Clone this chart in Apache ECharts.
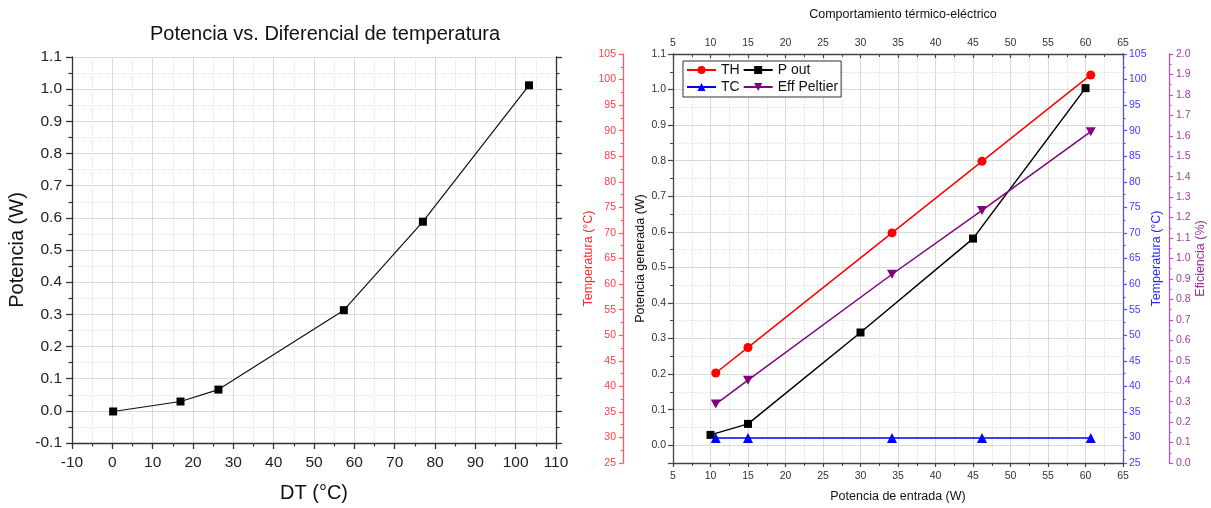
<!DOCTYPE html>
<html>
<head>
<meta charset="utf-8">
<title>Potencia vs. Diferencial de temperatura</title>
<script src="https://cdn.jsdelivr.net/npm/echarts@6/dist/echarts.min.js"></script>
<style>
  html, body { margin: 0; padding: 0; background: #fff; }
  #chart { width: 1211px; height: 508px; }
</style>
</head>
<body>
<div id="chart"></div>
<script>
// grafica izquierda: potencia vs DT
var dtValues = [0.2, 16.9, 26.3, 57.4, 77.0, 103.3]
var potValues = [-0.002, 0.029, 0.066, 0.313, 0.588, 1.012]

// grafica derecha: comportamiento termico-electrico
var potEntrada = [10.7, 15, 34.2, 46.2, 60.7]      // eje x de TH, TC y Eff
var thValues = [42.6, 47.6, 70.0, 84.0, 100.9]
var tcValues = [29.9, 29.9, 29.9, 29.9, 29.9]
var effValues = [0.288, 0.405, 0.923, 1.235, 1.62]
var potEntradaOut = [10, 15, 30, 45, 60]           // eje x de P out
var pOutValues = [0.029, 0.060, 0.317, 0.581, 1.004]
var legendList = ['TH', 'P out', 'TC', 'Eff Peltier']

var FONT = 'Liberation Sans, Arial, sans-serif'
var downTriangle = 'path://M0,0 L10,0 L5,9 Z'

function pairs(xs, ys) {
  return xs.map(function (x, i) { return [x, ys[i]] })
}
function oneDecimal(v) {
  // solo etiquetas en multiplos de 0.1
  if (Math.abs(v * 10 - Math.round(v * 10)) > 1e-6) return ''
  return v.toFixed(1)
}

// estilo comun de ejes
function axisBase(color, labelColor, fontSize, opts) {
  var base = {
    type: 'value',
    axisLine: { show: true, onZero: false, lineStyle: { color: color, width: 1.3 } },
    axisTick: { show: true, length: 5, lineStyle: { color: color, width: 1.2 } },
    minorTick: { show: true, splitNumber: 2, length: 3, lineStyle: { color: color, width: 1 } },
    axisLabel: { color: labelColor, fontSize: fontSize, fontFamily: FONT },
    splitLine: { show: false },
    nameTextStyle: { fontFamily: FONT }
  }
  return Object.assign(base, opts)
}

var gridLine = { show: true, lineStyle: { color: '#dadada', width: 1 } }
var minorGridLine = { show: true, lineStyle: { color: '#e0e0e0', width: 1, type: 'dotted' } }

var options = {
  animation: false,
  backgroundColor: '#fff',
  title: [
    {
      text: 'Potencia vs. Diferencial de temperatura',
      left: 320, top: 19, textAlign: 'center',
      textStyle: { fontSize: 20, fontWeight: 'normal', color: '#111', fontFamily: FONT }
    },
    {
      text: 'Comportamiento térmico-eléctrico',
      left: 898, top: 3, textAlign: 'center',
      textStyle: { fontSize: 12.5, fontWeight: 'normal', color: '#111', fontFamily: FONT }
    }
  ],
  legend: {
    data: legendList,
    left: 683, top: 61, width: 156,
    orient: 'horizontal',
    padding: [2, 3, 3, 3],
    itemGap: 3,
    itemWidth: 29,
    itemHeight: 10,
    borderColor: '#333',
    borderWidth: 1,
    borderRadius: 0,
    backgroundColor: '#fff',
    textStyle: { fontSize: 14, color: '#111', fontFamily: FONT }
  },
  grid: [
    { left: 72, top: 57, width: 484, height: 389 },
    { left: 673, top: 54, width: 450, height: 411 }
  ],
  xAxis: [
    axisBase('#333', '#222', 15, {
      gridIndex: 0, position: 'bottom', min: -10, max: 110, interval: 10,
      axisTick: { show: true, length: 6, lineStyle: { color: '#333', width: 1.3 } },
      minorTick: { show: true, splitNumber: 2, length: 3.5, lineStyle: { color: '#333', width: 1.2 } },
      axisLabel: { color: '#222', fontSize: 15.5, fontFamily: FONT, margin: 12 },
      splitLine: gridLine, minorSplitLine: minorGridLine,
      name: 'DT (°C)', nameLocation: 'middle', nameGap: 40,
      nameTextStyle: { fontSize: 20, color: '#111', fontFamily: FONT }
    }),
    axisBase('#444', '#333', 10.5, {
      gridIndex: 1, position: 'bottom', min: 5, max: 65, interval: 5,
      axisTick: { show: true, length: 4, lineStyle: { color: '#444', width: 1.2 } },
      axisLabel: { color: '#333', fontSize: 10.5, fontFamily: FONT, margin: 8 },
      splitLine: gridLine, minorSplitLine: minorGridLine,
      name: 'Potencia de entrada (W)', nameLocation: 'middle', nameGap: 27,
      nameTextStyle: { fontSize: 12.5, color: '#111', fontFamily: FONT }
    }),
    axisBase('#444', '#333', 10.5, {
      gridIndex: 1, position: 'top', min: 5, max: 65, interval: 5,
      axisTick: { show: true, inside: true, length: 4, lineStyle: { color: '#444', width: 1.2 } },
      minorTick: { show: true, splitNumber: 2, length: 3, lineStyle: { color: '#444', width: 1 } },
      axisLabel: { color: '#333', fontSize: 10.5, fontFamily: FONT, margin: 5 }
    })
  ],
  yAxis: [
    axisBase('#333', '#222', 15, {
      gridIndex: 0, position: 'left', min: -0.1, max: 1.1, interval: 0.1,
      axisTick: { show: true, length: 6, lineStyle: { color: '#333', width: 1.3 } },
      minorTick: { show: true, splitNumber: 2, length: 3.5, lineStyle: { color: '#333', width: 1.2 } },
      axisLabel: { color: '#222', fontSize: 15.5, fontFamily: FONT, margin: 10, formatter: oneDecimal },
      splitLine: gridLine, minorSplitLine: minorGridLine,
      name: 'Potencia (W)', nameLocation: 'middle', nameRotate: 90, nameGap: 45,
      nameTextStyle: { fontSize: 20, color: '#111', fontFamily: FONT }
    }),
    axisBase('#333', '#222', 15, {
      gridIndex: 0, position: 'right', min: -0.1, max: 1.1, interval: 0.1,
      axisTick: { show: true, length: 6, lineStyle: { color: '#333', width: 1.3 } },
      minorTick: { show: true, splitNumber: 2, length: 3.5, lineStyle: { color: '#333', width: 1.2 } },
      axisLabel: { show: false }
    }),
    // potencia generada (eje izquierdo interior)
    axisBase('#444', '#333', 10.5, {
      gridIndex: 1, position: 'left', min: -0.05, max: 1.1,
      minInterval: 0.1, maxInterval: 0.1, splitNumber: 11,
      axisLabel: { color: '#333', fontSize: 10.5, fontFamily: FONT, margin: 7, formatter: oneDecimal },
      splitLine: gridLine, minorSplitLine: minorGridLine,
      name: 'Potencia generada (W)', nameLocation: 'middle', nameRotate: 90, nameGap: 25,
      nameTextStyle: { fontSize: 12.5, color: '#111', fontFamily: FONT }
    }),
    // temperatura TH (rojo)
    axisBase('#ff5a5a', '#ff4040', 10.5, {
      gridIndex: 1, position: 'left', offset: 50, min: 25, max: 105, interval: 5,
      axisTick: { show: true, length: 4, lineStyle: { color: '#ff5a5a', width: 1.2 } },
      minorTick: { show: true, splitNumber: 2, length: 2.5, lineStyle: { color: '#ff5a5a', width: 1 } },
      axisLabel: { color: '#ff4040', fontSize: 10.5, fontFamily: FONT, margin: 7 },
      name: 'Temperatura (°C)', nameLocation: 'middle', nameRotate: 90, nameGap: 26,
      nameTextStyle: { fontSize: 12.5, color: '#ff2a2a', fontFamily: FONT }
    }),
    // temperatura TC (azul)
    axisBase('#5050ff', '#4040ff', 10.5, {
      gridIndex: 1, position: 'right', offset: 0, min: 25, max: 105, interval: 5,
      axisTick: { show: true, length: 4, lineStyle: { color: '#5050ff', width: 1.2 } },
      minorTick: { show: true, splitNumber: 2, length: 2.5, lineStyle: { color: '#5050ff', width: 1 } },
      axisLabel: { color: '#4040ff', fontSize: 10.5, fontFamily: FONT, margin: 6 },
      name: 'Temperatura (°C)', nameLocation: 'middle', nameRotate: 90, nameGap: 26,
      nameTextStyle: { fontSize: 12.5, color: '#2a2aff', fontFamily: FONT }
    }),
    // eficiencia (morado)
    axisBase('#b05ab0', '#a03ca0', 10.5, {
      gridIndex: 1, position: 'right', offset: 46, min: 0, max: 2, interval: 0.1,
      axisTick: { show: true, length: 4, lineStyle: { color: '#b05ab0', width: 1.2 } },
      minorTick: { show: true, splitNumber: 2, length: 2.5, lineStyle: { color: '#b05ab0', width: 1 } },
      axisLabel: { color: '#a03ca0', fontSize: 10.5, fontFamily: FONT, margin: 7, formatter: oneDecimal },
      name: 'Eficiencia (%)', nameLocation: 'middle', nameRotate: 90, nameGap: 25,
      nameTextStyle: { fontSize: 12.5, color: '#993399', fontFamily: FONT }
    })
  ],
  series: [
    {
      name: 'Potencia', type: 'line', xAxisIndex: 0, yAxisIndex: 0,
      data: pairs(dtValues, potValues),
      symbol: 'rect', symbolSize: 8,
      lineStyle: { color: '#111', width: 1.2 },
      itemStyle: { color: '#000' }
    },
    {
      name: 'TH', type: 'line', xAxisIndex: 1, yAxisIndex: 3,
      data: pairs(potEntrada, thValues),
      symbol: 'circle', symbolSize: 9,
      lineStyle: { color: '#ff0000', width: 1.5 },
      itemStyle: { color: '#ff0000' }
    },
    {
      name: 'P out', type: 'line', xAxisIndex: 1, yAxisIndex: 2,
      data: pairs(potEntradaOut, pOutValues),
      symbol: 'rect', symbolSize: 8,
      lineStyle: { color: '#000', width: 1.5 },
      itemStyle: { color: '#000' }
    },
    {
      name: 'TC', type: 'line', xAxisIndex: 1, yAxisIndex: 4,
      data: pairs(potEntrada, tcValues),
      symbol: 'triangle', symbolSize: 10,
      lineStyle: { color: '#0000ff', width: 1.5 },
      itemStyle: { color: '#0000ff' }
    },
    {
      name: 'Eff Peltier', type: 'line', xAxisIndex: 1, yAxisIndex: 5,
      data: pairs(potEntrada, effValues),
      symbol: downTriangle, symbolSize: [10, 9],
      lineStyle: { color: '#800080', width: 1.5 },
      itemStyle: { color: '#800080' }
    }
  ]
}

var myChart = echarts.init(document.getElementById('chart'))
myChart.setOption(options)
</script>
</body>
</html>
